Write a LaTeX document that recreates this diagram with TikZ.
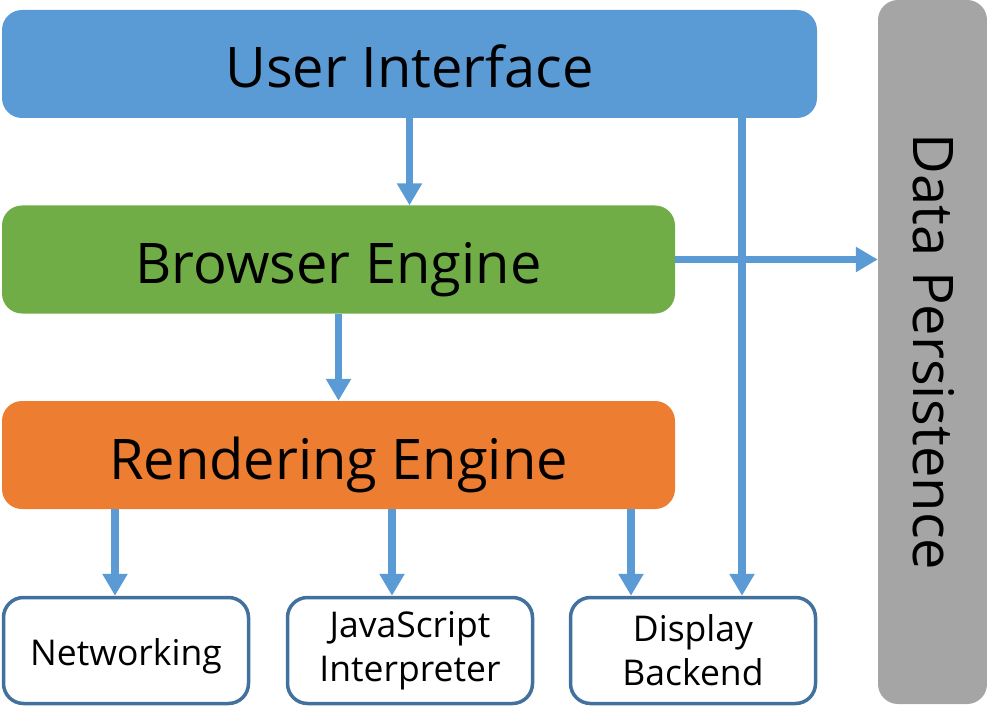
\documentclass[tikz,border=0pt]{standalone}
\usepackage{fontspec}
\setmainfont{Open Sans}
\usetikzlibrary{arrows.meta}
\definecolor{uiblue}{HTML}{5B9BD5}
\definecolor{begreen}{HTML}{70AD47}
\definecolor{reorange}{HTML}{ED7D31}
\definecolor{dpgray}{HTML}{A5A5A5}
\definecolor{edgeblue}{HTML}{41719C}
\definecolor{arrblue}{HTML}{5B9BD5}
\tikzset{
  bigbox/.style={rounded corners=20pt, inner sep=0pt, font=\fontsize{56}{62}\selectfont, text=black, minimum height=108pt},
  bigtext/.style={text height=48pt, text depth=0pt},
  smallbox/.style={draw=edgeblue, line width=3.5pt, fill=white, rounded corners=20pt, inner sep=0pt, minimum width=245pt, minimum height=106pt, align=center, font=\fontsize{35.5}{44}\selectfont},
  arr/.style={draw=arrblue, line width=7.5pt, -{Triangle[length=22pt,width=24pt]}}
}
\begin{document}
\begin{tikzpicture}[x=1pt,y=-1pt]
\useasboundingbox (0,0) rectangle (987,719);
\node[bigbox, bigtext, fill=uiblue, minimum width=815pt] (ui) at (409.5,64) {User Interface};
\node[bigbox, bigtext, fill=begreen, minimum width=673pt] (be) at (338.5,259.5) {Browser Engine};
\node[bigbox, bigtext, fill=reorange, minimum width=673pt] (re) at (338.5,455) {Rendering Engine};
\node[smallbox, text height=30pt, text depth=0pt] (net) at (126,650.5) {Networking};
\node[smallbox] (js) at (410,650.5) {JavaScript\\Interpreter};
\node[smallbox] (disp) at (693,650.5) {Display\\Backend};
\node[bigbox, fill=dpgray, minimum width=109pt, minimum height=704pt] (dp) at (932.5,352) {\rotatebox{-90}{\raisebox{3pt}{Data Persistence}}};
\draw[arr] (ui.south) -- (ui.south |- be.north);
\draw[arr] (be.south) -- (be.south |- re.north);
\draw[arr] (re.south -| 115,0) -- (net.north -| 115,0);
\draw[arr] (re.south -| 392,0) -- (js.north -| 392,0);
\draw[arr] (re.south -| 631,0) -- (disp.north -| 631,0);
\draw[arr] (ui.south -| 742,0) -- (disp.north -| 742,0);
\draw[arr] (be.east) -- (be.east -| dp.west);
\end{tikzpicture}
\end{document}
